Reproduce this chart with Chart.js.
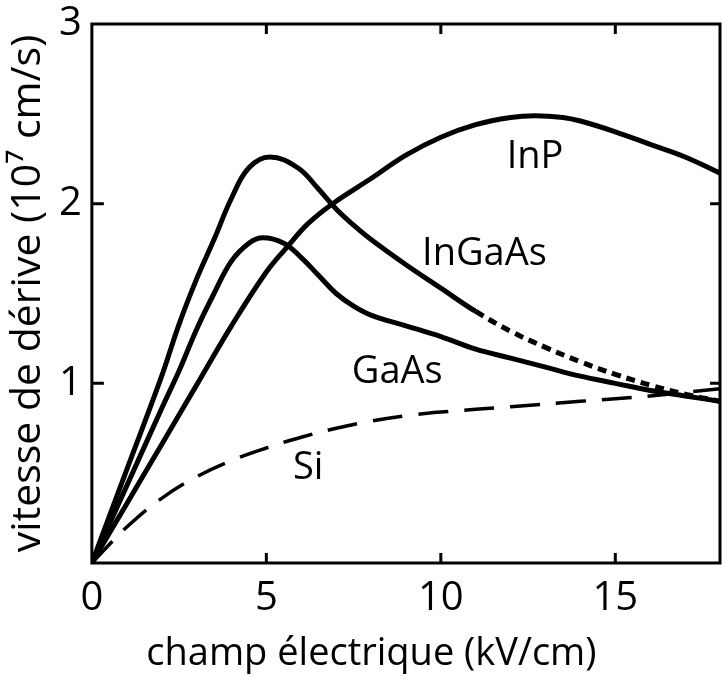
<!DOCTYPE html>
<html>
<head>
<meta charset="utf-8">
<script src="https://cdn.jsdelivr.net/npm/chart.js@4.4.1/dist/chart.umd.min.js"></script>
<style>
  html, body { margin: 0; padding: 0; background: #fff; }
  #wrap { width: 723px; height: 679px; }
</style>
</head>
<body>
<div id="wrap"><canvas id="veloChart"></canvas></div>
<script>
// champ électrique (kV/cm) -> vitesse de dérive (10^7 cm/s)
const xTicks = [0, 5, 10, 15];
const yTicks = [1, 2, 3];

const inGaAsX = [0, 1, 2, 2.5, 3, 3.5, 4, 4.5, 5.1, 5.9, 6.5, 7, 7.5, 8, 9, 10, 11, 12, 13, 14, 15, 16, 17, 18];
const inGaAsY = [0, 0.52, 1.04, 1.33, 1.58, 1.8, 2.03, 2.2, 2.26, 2.2, 2.08, 1.97, 1.88, 1.8, 1.66, 1.53, 1.4, 1.29, 1.2, 1.12, 1.05, 0.99, 0.94, 0.9];

const gaAsX = [0, 1, 2, 2.5, 3, 3.5, 4, 4.5, 4.9, 5.5, 6, 6.5, 7, 7.5, 8, 9, 10, 11, 12, 13, 14, 15, 16, 17, 18];
const gaAsY = [0, 0.43, 0.86, 1.07, 1.3, 1.5, 1.68, 1.78, 1.81, 1.78, 1.7, 1.6, 1.5, 1.43, 1.38, 1.32, 1.26, 1.19, 1.14, 1.09, 1.04, 1.0, 0.96, 0.93, 0.9];

const inPX = [0, 1, 2, 3, 4, 5, 5.6, 6.2, 6.9, 8, 9, 10, 11, 12, 12.7, 13.5, 14, 15, 16, 17, 18];
const inPY = [0, 0.33, 0.66, 0.99, 1.32, 1.62, 1.76, 1.89, 2.0, 2.14, 2.27, 2.37, 2.44, 2.48, 2.49, 2.48, 2.46, 2.4, 2.33, 2.26, 2.17];

const siX = [0, 1, 2, 3, 4, 5, 6, 7, 8, 9, 10, 12, 14, 16, 18];
const siY = [0, 0.2, 0.36, 0.48, 0.57, 0.64, 0.7, 0.75, 0.79, 0.82, 0.84, 0.87, 0.9, 0.93, 0.97];

// curve names written inside the plot, at data coordinates
const curveLabels = ['InP', 'InGaAs', 'GaAs', 'Si'];
const labelX = [12.7, 11.25, 8.75, 6.2];
const labelY = [2.26, 1.72, 1.06, 0.53];

const toPoints = (xs, ys) => xs.map((x, i) => ({ x: x, y: ys[i] }));

const ink = '#000';
const fontName = "'Open Sans', 'DejaVu Sans', sans-serif";

// frame, inward ticks and curve names
const framePlugin = {
    id: 'frame',
    afterDatasetsDraw(chart) {
        const { ctx, chartArea: a, scales } = chart;
        ctx.save();
        ctx.strokeStyle = ink;
        ctx.lineWidth = 3;
        ctx.strokeRect(a.left, a.top, a.right - a.left, a.bottom - a.top);

        ctx.beginPath();
        xTicks.forEach(v => {
            if (v === 0) return;
            const px = scales.x.getPixelForValue(v);
            ctx.moveTo(px, a.bottom); ctx.lineTo(px, a.bottom - 10);
            ctx.moveTo(px, a.top); ctx.lineTo(px, a.top + 10);
        });
        yTicks.forEach(v => {
            if (v === 3) return;
            const py = scales.y.getPixelForValue(v);
            ctx.moveTo(a.left, py); ctx.lineTo(a.left + 12, py);
            ctx.moveTo(a.right, py); ctx.lineTo(a.right - 10, py);
        });
        ctx.stroke();

        ctx.fillStyle = ink;
        ctx.font = '38px ' + fontName;
        ctx.textAlign = 'center';
        ctx.textBaseline = 'middle';
        curveLabels.forEach((t, i) => {
            ctx.fillText(t, scales.x.getPixelForValue(labelX[i]), scales.y.getPixelForValue(labelY[i]));
        });
        ctx.restore();
    }
};

const ctx = document.getElementById('veloChart').getContext('2d');

const baseLine = {
    borderColor: ink,
    borderWidth: 5,
    pointRadius: 0,
    fill: false,
    tension: 0.4
};

let chart = new Chart(ctx, {
    type: 'line',
    data: {
        datasets: [
            {
                ...baseLine,
                label: 'InGaAs',
                data: toPoints(inGaAsX, inGaAsY),
                segment: {
                    borderDash: c => c.p0.parsed.x >= 11 ? [9, 6] : undefined
                }
            },
            { ...baseLine, label: 'GaAs', data: toPoints(gaAsX, gaAsY) },
            { ...baseLine, label: 'InP', data: toPoints(inPX, inPY) },
            { ...baseLine, label: 'Si', data: toPoints(siX, siY), borderWidth: 3.5, borderDash: [30, 16] }
        ]
    },
    options: {
        responsive: true,
        maintainAspectRatio: false,
        animation: false,
        layout: { padding: { left: 8, right: 3, top: 0, bottom: 2 } },
        plugins: {
            legend: { display: false },
            tooltip: { enabled: false }
        },
        scales: {
            x: {
                type: 'linear',
                min: 0,
                max: 18,
                afterBuildTicks: s => { s.ticks = xTicks.map(v => ({ value: v })); },
                grid: { display: false, drawTicks: false },
                border: { display: false },
                ticks: {
                    color: ink,
                    padding: 16,
                    maxRotation: 0,
                    font: { family: fontName, size: 40, lineHeight: 1 }
                },
                title: {
                    display: true,
                    // trailing spaces pull the centred title left, as in the original
                    text: 'champ électrique (kV/cm)       ',
                    color: ink,
                    padding: { top: 0, bottom: 4 },
                    font: { family: fontName, size: 38, lineHeight: 1 }
                }
            },
            y: {
                min: 0,
                max: 3,
                afterBuildTicks: s => { s.ticks = yTicks.map(v => ({ value: v })); },
                // the "3" label may sit close to the top edge
                afterFit: s => { s.paddingTop = 24; },
                grid: { display: false, drawTicks: false },
                border: { display: false },
                ticks: {
                    color: ink,
                    padding: 10,
                    font: { family: fontName, size: 40, lineHeight: 1 }
                },
                title: {
                    display: true,
                    text: 'vitesse de dérive (10⁷ cm/s)',
                    color: ink,
                    padding: { top: 0, bottom: 0 },
                    font: { family: fontName, size: 41, lineHeight: 1 }
                }
            }
        }
    },
    plugins: [framePlugin]
});
</script>
</body>
</html>
